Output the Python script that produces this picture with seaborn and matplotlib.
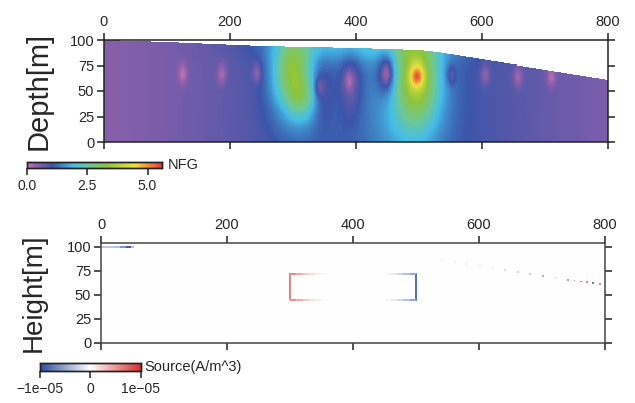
import numpy as np
import pandas as pd
import matplotlib
matplotlib.use("Agg")
import matplotlib.pyplot as plt
from matplotlib.colors import LinearSegmentedColormap
import seaborn as sns

sns.set_style("white")
plt.rcParams["font.family"] = ["Liberation Sans", "DejaVu Sans"]

# ---------------- data ----------------
# terrain surface (top panel mask)
surf_x = [0, 100, 250, 400, 500, 530, 800]
surf_z = [100, 98, 94, 92, 90, 88, 61]

# NFG field: background level and anomalies (centre x, centre z, width x, width z, amplitude)
nfg_base = 0.35
anom_x = [440, 298, 316, 306, 497, 497, 485, 410, 449, 345, 392]
anom_z = [50, 70, 42, 58, 65, 62, 40, 95, 68, 52, 58]
anom_sx = [220, 20, 16, 32, 8, 24, 42, 100, 11, 13, 12]
anom_sz = [400, 24, 14, 36, 8, 30, 50, 12, 17, 24, 24]
anom_amp = [0.8, 1.5, 0.8, 0.8, 1.7, 1.9, 0.8, 0.8, -1.0, -0.5, -0.5]
# small local minima (pink spots)
spot_x = [125, 187, 243, 341, 389, 449, 551, 605, 657, 710]
spot_z = [67, 67, 68, 54, 60, 67, 66, 66, 64, 64]
spot_amp = -0.6

nfg_ticks = [0.0, 2.5, 5.0]
nfg_range = (0.0, 5.6)

# source panel: rectangle edges
rect_x0, rect_x1 = 300, 500
rect_z0, rect_z1 = 45, 72
left_edge_val = 0.6e-5
right_edge_val = -0.8e-5
edge_x = [300, 310, 320, 330, 340, 350, 360, 440, 450, 460, 470, 480, 490, 500]
edge_val = [0.55e-5, 0.4e-5, 0.25e-5, 0.15e-5, 0.08e-5, 0.03e-5, 0.0, 0.0,
            -0.05e-5, -0.12e-5, -0.22e-5, -0.35e-5, -0.5e-5, -0.7e-5]
# surface line sources (top-left line and dotted terrain line)
top_line_x = [0, 10, 20, 30, 40, 48]
top_line_val = [-0.3e-5, -0.3e-5, -0.35e-5, -0.6e-5, -0.9e-5, 0.4e-5]
dot_x = [520, 540, 560, 580, 600, 620, 640, 660, 680, 700, 720, 740, 750, 760, 770, 780, 790]
dot_val = [-0.05e-5, -0.08e-5, -0.1e-5, -0.1e-5, -0.12e-5, -0.15e-5, -0.2e-5, -0.25e-5,
           -0.3e-5, -0.4e-5, 0.3e-5, -0.5e-5, 0.5e-5, -0.6e-5, 0.6e-5, -0.7e-5, 0.6e-5]
src_ticks = [-1e-5, 0, 1e-5]
src_ticklabels = ["\u22121e\u221205", "0", "1e\u221205"]

x_ticks = [0, 200, 400, 600, 800]
z_ticks = [0, 25, 50, 75, 100]

# ---------------- build grids ----------------
xc = np.arange(800) + 0.5
zc = np.arange(100) + 0.5
X, Z = np.meshgrid(xc, zc)
field = np.full(X.shape, nfg_base)
for ax_, az_, sx_, sz_, a_ in zip(anom_x, anom_z, anom_sx, anom_sz, anom_amp):
    field += a_ * np.exp(-0.5 * (((X - ax_) / sx_) ** 2 + ((Z - az_) / sz_) ** 2))
for sx_, sz_ in zip(spot_x, spot_z):
    field += spot_amp * np.exp(-0.5 * (((X - sx_) / 5) ** 2 + ((Z - sz_) / 7) ** 2))
surface = np.interp(xc, surf_x, surf_z)
mask = Z > surface[None, :]
nfg_df = pd.DataFrame(field)

src = np.zeros((105, 800))
src[rect_z0:rect_z1 + 1, rect_x0 - 1:rect_x0 + 1] = left_edge_val
src[rect_z0:rect_z1 + 1, rect_x1 - 1:rect_x1 + 1] = right_edge_val
for i, (ex, ev) in enumerate(zip(edge_x, edge_val)):
    nx = edge_x[i + 1] if i + 1 < len(edge_x) else ex + 1
    src[rect_z0 - 1:rect_z0 + 1, ex:nx] = ev
    src[rect_z1 - 1:rect_z1 + 1, ex:nx] = ev
for i, (lx, lv) in enumerate(zip(top_line_x, top_line_val)):
    nx = top_line_x[i + 1] if i + 1 < len(top_line_x) else lx + 4
    src[99:101, lx:nx] = lv
for dx, dv in zip(dot_x, dot_val):
    zz = int(np.interp(dx, surf_x, surf_z)) - 1
    src[zz - 1:zz + 1, dx:dx + 3] = dv
src_df = pd.DataFrame(src)

# ---------------- colormaps ----------------
nfg_cmap = LinearSegmentedColormap.from_list("nfg", [
    (0.00, "#b677b4"), (0.06, "#9660aa"), (0.19, "#3b55a9"), (0.34, "#45bde8"),
    (0.45, "#6cc79a"), (0.59, "#8cc43c"), (0.80, "#f0e040"), (0.90, "#f0903a"),
    (1.00, "#e03a3a")])
src_cmap = LinearSegmentedColormap.from_list("src", [
    (0.0, "#2c4c9c"), (0.5, "#ffffff"), (1.0, "#d83030")])

# ---------------- figure ----------------
W, H = 635, 403
fig = plt.figure(figsize=(W / 100, H / 100), dpi=100)

def fr(l, t, r, b):
    return [l / W, 1 - b / H, (r - l) / W, (b - t) / H]

ax1 = fig.add_axes(fr(104, 40, 608, 142))
cax1 = fig.add_axes(fr(27, 162, 162, 168))
ax2 = fig.add_axes(fr(101, 243, 605, 343))
cax2 = fig.add_axes(fr(40, 363, 140.5, 370.5))

sns.heatmap(nfg_df, ax=ax1, cmap=nfg_cmap, vmin=nfg_range[0], vmax=nfg_range[1],
            mask=mask, cbar_ax=cax1, cbar_kws={"orientation": "horizontal"},
            xticklabels=False, yticklabels=False, rasterized=True)
sns.heatmap(src_df, ax=ax2, cmap=src_cmap, vmin=-1e-5, vmax=1e-5,
            cbar_ax=cax2, cbar_kws={"orientation": "horizontal"},
            xticklabels=False, yticklabels=False, rasterized=True)

for ax, ymax, sc in ((ax1, 100, "#222222"), (ax2, 104, "#444444")):
    ax.set_xlim(0, 800)
    ax.set_ylim(0, ymax)
    ax.set_facecolor("white")
    for s in ax.spines.values():
        s.set_visible(True)
        s.set_color(sc)
        s.set_linewidth(1.1)
    ax.set_xticks(x_ticks)
    ax.set_xticklabels([str(v) for v in x_ticks])
    ax.set_yticks(z_ticks)
    ax.set_yticklabels([str(v) for v in z_ticks])
    ax.tick_params(axis="x", which="both", direction="out", length=5, width=1.1,
                   top=True, bottom=True, labeltop=True, labelbottom=False,
                   labelsize=10.5, pad=3, color="#222222")
    ax.tick_params(axis="y", which="both", direction="out", length=5, width=1.1,
                   left=True, right=True, labelleft=True, labelright=False,
                   labelsize=10.5, pad=2, color="#222222")
    ax.set_xlabel("")

ax1.set_ylabel("Depth[m]", fontsize=21, labelpad=12)
ax2.set_ylabel("Height[m]", fontsize=20, labelpad=14)

for cax, ticks, labels, lab in ((cax1, nfg_ticks, ["0.0", "2.5", "5.0"], "NFG"),
                                (cax2, src_ticks, src_ticklabels, "Source(A/m^3)")):
    cax.set_xticks(ticks)
    cax.set_xticklabels(labels)
    cax.tick_params(axis="x", direction="out", length=5, width=1.1, labelsize=10,
                    pad=3, color="#222222")
    for s in cax.spines.values():
        s.set_visible(True)
        s.set_color("#222222")
        s.set_linewidth(1.0)
    cax.text(1.04, 0.5, lab, transform=cax.transAxes, ha="left", va="center", fontsize=10.5)

fig.savefig("out.png", dpi=100)
